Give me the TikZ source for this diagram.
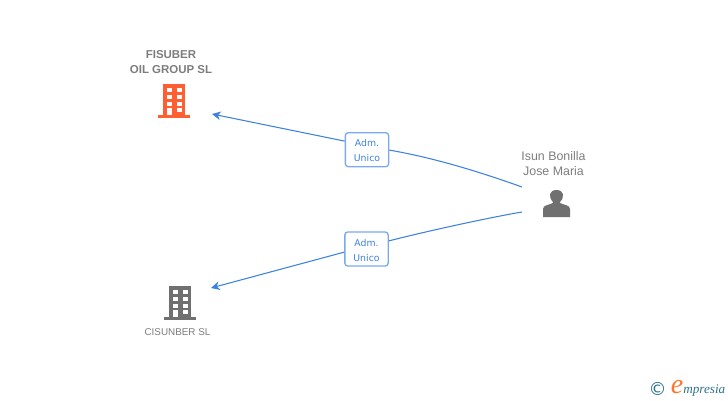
\documentclass[tikz,border=0pt]{standalone}
\usepackage{fontspec}
\setmainfont{Liberation Sans}
\newfontfamily\boxfont{DejaVu Sans}
\newfontfamily\logofont{Liberation Serif}
\usetikzlibrary{arrows.meta}
\definecolor{o}{RGB}{255, 94, 50}
\definecolor{k}{RGB}{112, 112, 112}
\definecolor{t}{RGB}{125, 125, 125}
\definecolor{l}{RGB}{62, 130, 225}
\definecolor{e}{RGB}{122, 170, 238}
\definecolor{c}{RGB}{45, 115, 140}
\def\fpt#1{\fontsize{#1}{11.25}\selectfont}
\tikzset{
  rel/.style={draw=l, line width=.8pt},
  relarrow/.style={rel, -{Stealth[length=6.5pt,width=6.5pt,inset=2pt]}},
  role/.style={draw=e, line width=1pt, fill=white, rounded corners=2.2pt, minimum width=32.5pt, minimum height=25.5pt,
    inner sep=0pt, align=center, text=l, font=\boxfont\fontsize{7}{11.4}\selectfont},
  lbl/.style={text=t, align=center, inner sep=0pt},
  bldg/.pic={
    \fill[pic actions] (-11,-17) rectangle (11,14);
    \fill[pic actions] (-16,14) rectangle (16,17);
    \foreach \r in {-13,-6,1} {
      \fill[white] (-7,\r) rectangle (-2.5,\r+4);
      \fill[white] (3,\r) rectangle (7.5,\r+4);
    }
    \fill[white] (3,7) rectangle (7.5,11);
    \fill[white] (-7,7) rectangle (-2.5,14);
  }
}
\begin{document}
\begin{tikzpicture}[x=.75pt, y=-.75pt]
  \useasboundingbox (0,0) rectangle (728,400);

  % companies
  \pic[fill=o] at (174,101) {bldg};
  \pic[fill=k] at (180,303) {bldg};
  \node[lbl, font=\bfseries\fpt{8.6}] (F) at (171,62.5) {FISUBER\\OIL GROUP SL};
  \node[lbl, font=\fpt{7.4}] (C) at (177.5,332) {CISUNBER SL};

  % person
  \node[lbl, font=\fpt{9.3}] (P) at (553.5,163.5) {Isun Bonilla\\Jose Maria};
  \fill[k] (543,217) -- (543,209) .. controls (543,205) and (549,205) .. (553,203)
    -- (553,202) .. controls (548,197) and (549,190) .. (556.5,190)
    .. controls (564,190) and (565,197) .. (560,202) -- (560,203)
    .. controls (564,205) and (570,205) .. (570,209) -- (570,217) -- cycle;

  % end points
  \coordinate (P1) at (522,187);
  \coordinate (P2) at (522,212);
  \coordinate (F1) at (212,114);
  \coordinate (C1) at (211,288);

  \node[role] (R1) at (367,149.7) {\rule{0pt}{7pt}Adm.\\Unico};
  \node[role] (R2) at (366.5,249) {\rule{0pt}{7pt}Adm.\\Unico};

  \draw[rel] (P1) .. controls (480,172) and (435,158) .. (R1.-1);
  \draw[relarrow] (R1.159) -- (F1);
  \draw[rel] (P2) .. controls (498,216) and (440,228) .. (R2.20);
  \draw[relarrow] (R2.188) -- (C1);

  % logo
  \node[inner sep=0pt, text=c, font=\boxfont\fpt{13.5}] (L) at (657.5,389) {©};
  \node[inner sep=0pt, text=o!85!yellow, font=\logofont\itshape\fpt{21}, anchor=base] (E) at (677,393) {e};
  \node[inner sep=0pt, text=c, font=\logofont\itshape\fpt{9.9}, anchor=base west] (M) at (683,393) {mpresia};
\end{tikzpicture}
\end{document}
